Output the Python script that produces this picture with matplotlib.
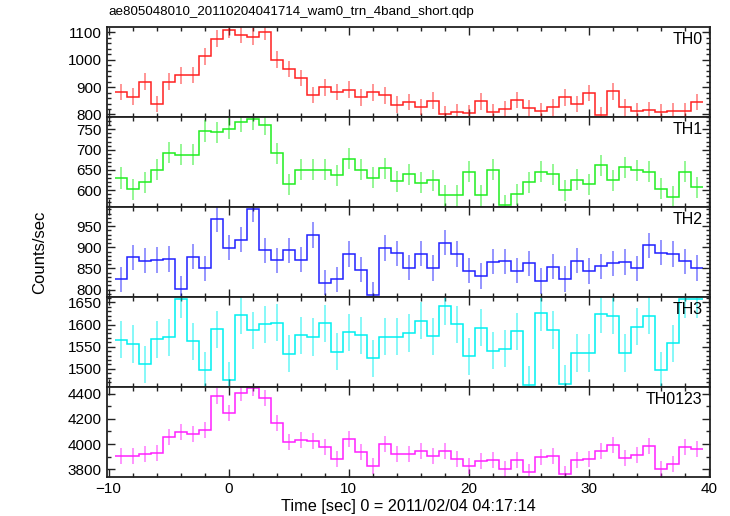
import numpy as np
import matplotlib
matplotlib.use("Agg")
import matplotlib.pyplot as plt
from matplotlib.ticker import MultipleLocator

plt.rcParams['font.family'] = ['Liberation Sans', 'DejaVu Sans']

# bin centres (s), 1-s bins
time_sec = list(range(-9, 40))

th0 = [883, 865, 920, 838, 920, 943, 945, 1012, 1077, 1109, 1089, 1084, 1101,
       1000, 966, 933, 872, 899, 883, 891, 862, 881, 870, 836, 846, 827, 851,
       800, 809, 804, 848, 809, 819, 853, 822, 811, 826, 862, 838, 879, 798,
       884, 826, 813, 816, 808, 813, 813, 845]
th1 = [630, 602, 620, 651, 692, 688, 688, 746, 743, 752, 769, 775, 761, 691,
       615, 651, 651, 651, 637, 678, 651, 631, 654, 622,
       639, 618, 625, 587, 587, 645, 587, 651, 563, 590, 620, 645, 639, 600,
       626, 615, 662, 625, 656, 649, 646, 603, 584, 646, 607]
th2 = [824, 876, 868, 870, 872, 802, 878, 850, 966, 899, 918, 990, 893, 869,
       893, 871, 929, 816, 824, 884, 847, 787, 898, 886,
       852, 885, 851, 911, 884, 845, 832, 866, 867, 845, 862, 820, 854, 825,
       868, 844, 855, 862, 865, 850, 905, 887, 884, 867, 851]
th3 = [1566, 1556, 1510, 1567, 1571, 1657, 1562, 1497, 1589, 1474, 1621, 1587,
       1601, 1604, 1534, 1576, 1572, 1603, 1539, 1583, 1576, 1524, 1573, 1573,
       1581, 1609, 1574, 1642, 1601, 1528, 1593, 1541, 1546, 1585, 1464, 1627,
       1588, 1467, 1536, 1536, 1624, 1620, 1536, 1595, 1620, 1497, 1558, 1657,
       1657]
th0123 = [3903, 3903, 3924, 3932, 4058, 4093, 4077, 4108, 4380, 4243, 4401,
          4444, 4362, 4166, 4016, 4029, 4026, 3974, 3881, 4037, 3939, 3829,
          3998, 3921,
          3921, 3942, 3905, 3942, 3884, 3826, 3866, 3873, 3800, 3873, 3778,
          3900, 3908, 3760, 3871, 3881, 3942, 3990, 3887, 3910, 3982, 3800,
          3839, 3979, 3958]

# typical 1-sigma error per band (counts/sec)
errors = [30, 26, 30, 42, 63]
series = [th0, th1, th2, th3, th0123]
names = ["TH0", "TH1", "TH2", "TH3", "TH0123"]
colors = ["#ff2020", "#20ee20", "#2020ff", "#00f0f0", "#ff20ff"]
ylims = [(790, 1118), (558, 780), (782, 995), (1459, 1662), (3739, 4451)]
ymajor = [100, 50, 50, 50, 200]
yminor = [20, 10, 10, 10, 100]

W, H = 730, 516
fig = plt.figure(figsize=(W / 100, H / 100), dpi=100)
left_px, right_px = 106.8, 709.5
top_px, bot_px = 27.3, 477.0
ph = (bot_px - top_px) / 5

t = np.array(time_sec, dtype=float)
edges = np.concatenate([t - 0.5, [t[-1] + 0.5]])

axes = []
for i, (vals, name, col, yl, mj, mn, er) in enumerate(
        zip(series, names, colors, ylims, ymajor, yminor, errors)):
    y0 = H - (top_px + (i + 1) * ph)
    ax = fig.add_axes([left_px / W, y0 / H, (right_px - left_px) / W, ph / H])
    v = np.array(vals, dtype=float)
    ax.stairs(v, edges, baseline=None, color=col, lw=1.1)
    ax.errorbar(t, v, yerr=er, fmt='none', ecolor=col, elinewidth=1.1,
                alpha=0.6, capsize=0)
    ax.set_xlim(-10.15, 40.05)
    ax.set_ylim(*yl)
    ax.xaxis.set_major_locator(MultipleLocator(10))
    ax.xaxis.set_minor_locator(MultipleLocator(2))
    ax.yaxis.set_major_locator(MultipleLocator(mj))
    ax.yaxis.set_minor_locator(MultipleLocator(mn))
    ax.tick_params(which='both', direction='in', top=True, right=True,
                   labelsize=11, color='#222222', width=1.0)
    ax.tick_params(which='major', length=6)
    ax.tick_params(which='minor', length=3)
    for sp in ax.spines.values():
        sp.set_linewidth(1.3)
        sp.set_color('#222222')
    if i < 4:
        ax.tick_params(labelbottom=False)
    ax.text(0.988, 0.95, name, transform=ax.transAxes, ha='right', va='top',
            fontsize=11.5)
    axes.append(ax)

axes[-1].set_xlabel("Time [sec] 0 = 2011/02/04 04:17:14", fontsize=11.7,
                    labelpad=2)
fig.text(40 / W, 1 - 252 / H, "Counts/sec", rotation=90, ha='center',
         va='center', fontsize=12)
fig.text(108 / W, 1 - 12 / H,
         "ae805048010_20110204041714_wam0_trn_4band_short.qdp",
         ha='left', va='center', fontsize=9.6)

fig.savefig("out.png", dpi=100)
